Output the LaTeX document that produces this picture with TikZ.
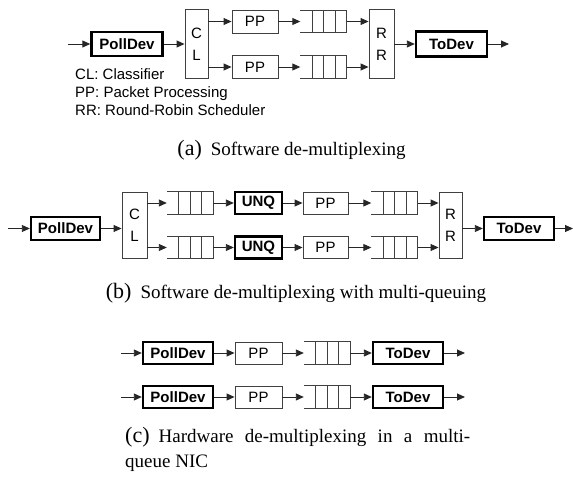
\documentclass[tikz,border=0pt]{standalone}
\usepackage{fontspec}
\setmainfont{Liberation Serif}
\setsansfont{Liberation Sans}
\usetikzlibrary{positioning,
                arrows.meta}                % arrow tips

\tikzset{
  box/.style={draw=black!75, line width=0.9pt, inner sep=0pt,
              font=\sffamily\fontsize{15}{22}\selectfont, align=center},
  bbox/.style={box, draw=black, line width=2.4pt,
              font=\sffamily\bfseries\fontsize{15}{18}\selectfont},
  fifo/.style={inner sep=0pt, minimum width=46pt, minimum height=22pt},
  link/.style={draw=black!85, line width=0.9pt, -{Triangle[length=8pt,width=7pt]}},
  legend/.style={anchor=base west, inner sep=0pt, font=\sffamily\fontsize{15}{18}\selectfont},
  caption/.style={inner sep=0pt, font=\fontsize{19}{25}\selectfont},
}

% queue: open on the left, three slots
\newcommand{\queuebox}[2]{%
  \node[fifo] (#1) at (#2) {};
  \draw[black!75, line width=0.9pt] (#1.north west) -- (#1.north east)
        -- (#1.south east) -- (#1.south west);
  \foreach \k in {1,2,3}
    \draw[black!75, line width=0.9pt] ([xshift=-\k*11.5pt]#1.north east)
          -- ([xshift=-\k*11.5pt]#1.south east);
}
\newcommand{\sublabel}[1]{{\fontsize{22}{25}\selectfont(#1)}\hspace{9pt}}

\begin{document}
\begin{tikzpicture}[x=1pt, y=-1pt]
        \useasboundingbox (0,0) rectangle (573,477);

        % (a) software de-multiplexing
        \node[bbox, minimum width=71pt, minimum height=24pt] (pollA) at (127,44) {PollDev};
        \node[box, minimum width=23pt, minimum height=69pt] (clA) at (196.5,44) {C\\L};
        \node[box, minimum width=46pt, minimum height=23pt] (ppA1) at (255,21.5) {PP};
        \node[box, minimum width=46pt, minimum height=23pt] (ppA2) at (255,67) {PP};
        \queuebox{qA1}{323.5,21.5}
        \queuebox{qA2}{323.5,67}
        \node[box, minimum width=25pt, minimum height=69pt] (rrA) at (381.5,44) {R\\R};
        \node[bbox, minimum width=71pt, minimum height=25pt] (toA) at (451.5,44) {ToDev};
        \coordinate (inA) at (68,44);
        \coordinate (outA) at (509,44);

        \draw[link] (inA) -- (pollA);
        \draw[link] (pollA) -- (clA);
        \foreach \i in {1,2} {
          \draw[link] (clA.east |- ppA\i) -- (ppA\i);
          \draw[link] (ppA\i) -- (qA\i);
          \draw[link] (qA\i) -- (rrA.west |- qA\i);
        }
        \draw[link] (rrA) -- (toA);
        \draw[link] (toA) -- (outA);

        \node[legend] (legCL) at (75,79) {CL: Classifier};
        \node[legend] (legPP) at (75,97) {PP: Packet Processing};
        \node[legend] (legRR) at (75,115) {RR: Round-Robin Scheduler};

        \node[caption, anchor=base] (capA) at (291.5,155) {\sublabel{a}Software de-multiplexing};

        % (b) with multi-queuing
        \node[bbox, minimum width=69pt, minimum height=23pt] (pollB) at (65.5,228.5) {PollDev};
        \node[box, minimum width=25pt, minimum height=66pt] (clB) at (134.5,225) {C\\L};
        \queuebox{qB1}{190,203}
        \queuebox{qB2}{190,247.5}
        \node[bbox, minimum width=47pt, minimum height=22pt] (unqB1) at (258.5,203) {UNQ};
        \node[bbox, minimum width=47pt, minimum height=22pt] (unqB2) at (258.5,247.5) {UNQ};
        \node[box, minimum width=45pt, minimum height=22pt] (ppB1) at (325.5,203) {PP};
        \node[box, minimum width=45pt, minimum height=22pt] (ppB2) at (325.5,247.5) {PP};
        \queuebox{rB1}{394.5,203}
        \queuebox{rB2}{394.5,247.5}
        \node[box, minimum width=23pt, minimum height=66pt] (rrB) at (450.5,225) {R\\R};
        \node[bbox, minimum width=70pt, minimum height=23pt] (toB) at (519,228.5) {ToDev};
        \coordinate (inB) at (8,228.5);
        \coordinate (outB) at (573,228.5);

        \draw[link] (inB) -- (pollB);
        \draw[link] (pollB) -- (pollB.east -| clB.west);
        \foreach \i in {1,2} {
          \draw[link] (clB.east |- qB\i) -- (qB\i);
          \draw[link] (qB\i) -- (unqB\i);
          \draw[link] (unqB\i) -- (ppB\i);
          \draw[link] (ppB\i) -- (rB\i);
          \draw[link] (rB\i) -- (rrB.west |- rB\i);
        }
        \draw[link] (rrB.east |- toB) -- (toB);
        \draw[link] (toB) -- (outB);

        \node[caption, anchor=base] (capB) at (296,298) {\sublabel{b}Software de-multiplexing with multi-queuing};

        % (c) hardware de-multiplexing
        \foreach \i/\y in {1/353,2/397} {
          \node[bbox, minimum width=70pt, minimum height=22pt] (pollC\i) at (178,\y) {PollDev};
          \node[box, minimum width=47pt, minimum height=22pt] (ppC\i) at (258.5,\y) {PP};
          \queuebox{qC\i}{327,\y}
          \node[bbox, minimum width=70pt, minimum height=22pt] (toC\i) at (408,\y) {ToDev};
          \coordinate (inC\i) at (121,\y);
          \coordinate (outC\i) at (465,\y);
          \draw[link] (inC\i) -- (pollC\i);
          \draw[link] (pollC\i) -- (ppC\i);
          \draw[link] (ppC\i) -- (qC\i);
          \draw[link] (qC\i) -- (toC\i);
          \draw[link] (toC\i) -- (outC\i);
        }

        \node[caption, anchor=north west, text width=345pt, align=justify] (capC) at (125,427)
          {\sublabel{c}Hardware de-multiplexing in a multi-\linebreak queue NIC};
\end{tikzpicture}
\end{document}
